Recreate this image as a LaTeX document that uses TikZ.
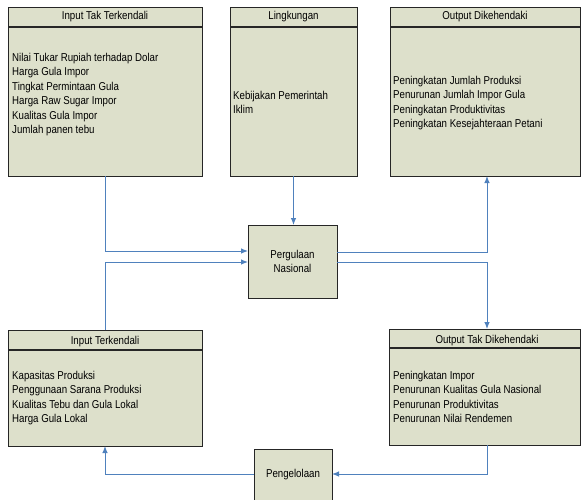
\documentclass[tikz,border=0pt]{standalone}
\usepackage{fontspec}
\setmainfont[FakeStretch=0.85]{Liberation Sans}
\usetikzlibrary{arrows.meta}
\definecolor{boxfill}{RGB}{221,224,203}
\definecolor{flow}{RGB}{79,129,189}
\tikzset{
  box/.style={rectangle, draw=black!85, fill=boxfill, line width=1pt, inner sep=0pt, outer sep=0pt},
  hdrline/.style={draw=black!85, line width=1.5pt},
  title/.style={font=\fontsize{11.4}{13}\selectfont, inner sep=0pt, anchor=base},
  items/.style={font=\fontsize{11.4}{14.5}\selectfont, align=left, inner sep=0pt, anchor=north west},
  arr/.style={draw=flow, line width=0.95pt, -{Latex[length=7pt,width=5.5pt]}},
}
\begin{document}
\begin{tikzpicture}[x=1pt,y=-1pt]
\useasboundingbox (0,0) rectangle (581,499);

% three blocks along the top
\node[box, minimum width=194pt, minimum height=169pt] (itt) at (105,91.5) {};
\node[box, minimum width=127pt, minimum height=169pt] (lk) at (293.5,91.5) {};
\node[box, minimum width=190pt, minimum height=169pt] (od) at (485,91.5) {};
\draw[hdrline] ([yshift=-20pt]itt.north west) -- ([yshift=-20pt]itt.north east);
\draw[hdrline] ([yshift=-20pt]lk.north west) -- ([yshift=-20pt]lk.north east);
\draw[hdrline] ([yshift=-20pt]od.north west) -- ([yshift=-20pt]od.north east);
\node[title] (itt-t) at (105,19) {Input Tak Terkendali};
\node[title] (lk-t) at (293.5,19) {Lingkungan};
\node[title] (od-t) at (485,19) {Output Dikehendaki};
\node[items] (itt-l) at (12,53) {Nilai Tukar Rupiah terhadap Dolar\\Harga Gula Impor\\Tingkat Permintaan Gula\\Harga Raw Sugar Impor\\Kualitas Gula Impor\\Jumlah panen tebu};
\node[items] (lk-l) at (233,91) {Kebijakan Pemerintah\\Iklim};
\node[items] (od-l) at (393,76) {Peningkatan Jumlah Produksi\\Penurunan Jumlah Impor Gula\\Peningkatan Produktivitas\\Peningkatan Kesejahteraan Petani};

% central system
\node[box, minimum width=89pt, minimum height=73pt, align=center,
      font=\fontsize{11.4}{14.5}\selectfont] (perg) at (292.5,261.5) {Pergulaan\\Nasional};

% two blocks along the bottom
\node[box, minimum width=194pt, minimum height=116pt] (it) at (105,388) {};
\node[box, minimum width=191pt, minimum height=116pt] (otd) at (484.5,387) {};
\draw[hdrline] ([yshift=-20pt]it.north west) -- ([yshift=-20pt]it.north east);
\draw[hdrline] ([yshift=-19pt]otd.north west) -- ([yshift=-19pt]otd.north east);
\node[title] (it-t) at (105,344) {Input Terkendali};
\node[title] (otd-t) at (487,343) {Output Tak Dikehendaki};
\node[items] (it-l) at (12,371) {Kapasitas Produksi\\Penggunaan Sarana Produksi\\Kualitas Tebu dan Gula Lokal\\Harga Gula Lokal};
\node[items] (otd-l) at (393,371) {Peningkatan Impor\\Penurunan Kualitas Gula Nasional\\Penurunan Produktivitas\\Penurunan Nilai Rendemen};

% management block
\node[box, minimum width=78pt, minimum height=61pt] (peng) at (293,479.5) {};
\node[title, anchor=center] (peng-t) at (293,475) {Pengelolaan};

% flows
\draw[arr] (itt.south) |- ([yshift=10.5pt]perg.west);
\draw[arr] (it.north) |- ([yshift=-0.5pt]perg.west);
\draw[arr] (lk.south) -- (lk.south |- perg.north);
\draw[arr] ([yshift=9.5pt]perg.east) -| ([xshift=2pt]od.south);
\draw[arr] ([yshift=-0.5pt]perg.east) -| ([xshift=2.5pt]otd.north);
\draw[arr] ([xshift=2.5pt]otd.south) |- ([yshift=5.5pt]peng.east);
\draw[arr] ([yshift=5.5pt]peng.west) -| (it.south);
\end{tikzpicture}
\end{document}
